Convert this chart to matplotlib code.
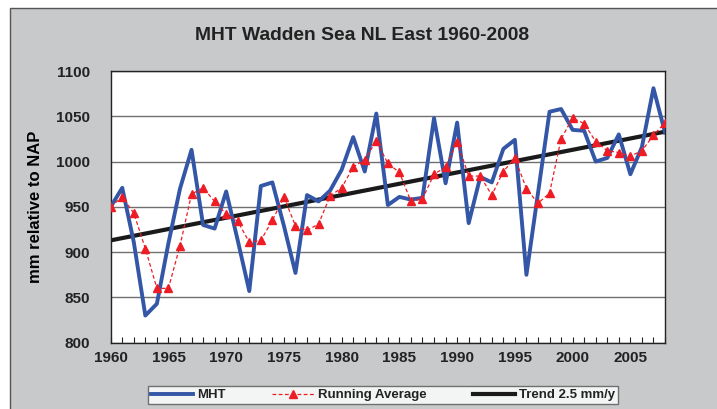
import numpy as np
import matplotlib.pyplot as plt
from matplotlib.patches import Rectangle
from matplotlib.ticker import MultipleLocator

plt.rcParams['font.family'] = ['Liberation Sans', 'DejaVu Sans']
plt.rcParams['text.color'] = '#222222'
plt.rcParams['xtick.color'] = '#222222'
plt.rcParams['ytick.color'] = '#222222'

years = np.arange(1960, 2009)
mht = [950, 971, 911, 830, 843, 910, 970, 1013, 930, 926,
       967, 913, 857, 973, 977, 929, 877, 963, 956, 968,
       991, 1027, 989, 1053, 952, 961, 958, 960, 1048, 976,
       1043, 932, 983, 977, 1014, 1024, 875, 965, 1055, 1058,
       1035, 1034, 1000, 1004, 1030, 986, 1016, 1081, 1032]
running_avg = [950, 961, 943, 904, 860, 860, 907, 964, 971, 956,
               942, 934, 911, 913, 935, 961, 929, 924, 931, 962,
               971, 994, 1002, 1023, 998, 988, 956, 959, 986, 994,
               1022, 984, 984, 963, 989, 1004, 970, 954, 965, 1025,
               1048, 1042, 1022, 1012, 1010, 1006, 1012, 1029, 1043]
trend_start = 913
trend_rate = 2.5
trend = [trend_start + trend_rate * (y - 1960) for y in years]

fig = plt.figure(figsize=(7.17, 4.09), dpi=100)
fig.patch.set_facecolor('white')
# gray chart background
fig.add_artist(Rectangle((10 / 717, -0.01), 1.0, 1 - 8 / 409 + 0.01,
                         transform=fig.transFigure, facecolor='#c8c9cb',
                         edgecolor='#555555', linewidth=1.0, zorder=0))

ax = fig.add_axes([110.7 / 717, 66.3 / 409, 554.3 / 717, 271.7 / 409])
ax.set_facecolor('white')
ax.set_zorder(1)

ax.plot(years, trend, color='#1a1a1a', lw=3.0, zorder=2, label='Trend 2.5 mm/y')
ax.plot(years, mht, color='#3456a6', lw=2.8, zorder=3, label='MHT')
ax.plot(years, running_avg, color='#ee1c24', lw=0.9, ls=(0, (3, 2)),
        marker='^', ms=6, mec='#ee1c24', mfc='#ee1c24', zorder=4,
        label='Running Average')

ax.set_xlim(1960, 2008)
ax.set_ylim(800, 1100)
ax.yaxis.set_major_locator(MultipleLocator(50))
ax.xaxis.set_major_locator(MultipleLocator(5))
ax.xaxis.set_minor_locator(MultipleLocator(1))
ax.grid(axis='y', color='#707070', lw=1.0, zorder=1)
ax.set_axisbelow(True)
ax.tick_params(axis='x', which='both', direction='in', length=4, width=0.8,
               labelsize=11, pad=6)
ax.tick_params(axis='y', length=0, labelsize=11, pad=15)
for lbl in ax.get_xticklabels() + ax.get_yticklabels():
    lbl.set_fontweight('bold')
for s in ax.spines.values():
    s.set_color('#222222')
    s.set_linewidth(1.0)

ax.set_ylabel('mm relative to NAP', fontsize=12, fontweight='bold', labelpad=9)
fig.text(0.5056, 1 - 35 / 409, 'MHT Wadden Sea NL East 1960-2008', ha='center',
         va='center', fontsize=13.9, fontweight='bold')

h, l = ax.get_legend_handles_labels()
order = [1, 2, 0]
leg = fig.legend([h[i] for i in order], [l[i] for i in order], ncol=3,
                 loc='center', bbox_to_anchor=(383 / 717, 1 - 395 / 409),
                 frameon=True, fancybox=False, fontsize=9.5, handlelength=3.2,
                 columnspacing=3.5, borderpad=0.25, handletextpad=0.3)
leg.get_frame().set_edgecolor('#555555')
leg.get_frame().set_linewidth(1.0)
for t in leg.get_texts():
    t.set_fontweight('bold')

fig.savefig('out.png', dpi=100)
